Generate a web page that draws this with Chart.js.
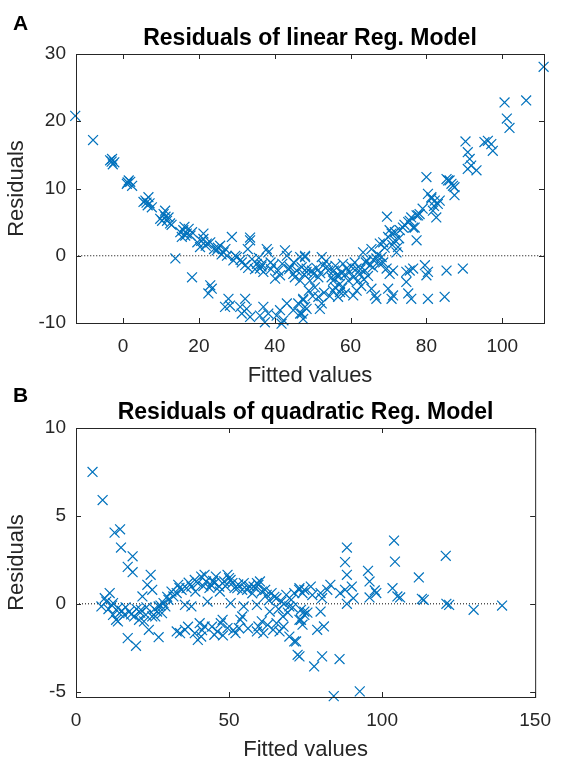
<!DOCTYPE html>
<html>
<head>
<meta charset="utf-8">
<script src="https://cdn.jsdelivr.net/npm/chart.js@4.4.1/dist/chart.umd.min.js"></script>
<style>
    html, body { margin: 0; padding: 0; background: #fff; }
    body { width: 563px; height: 760px; position: relative; overflow: hidden; font-family: 'Liberation Sans', Arial, sans-serif; }
    .panel { position: absolute; left: 0; width: 563px; height: 400px; }
    #panel-a { top: 0; }
    #panel-b { top: 374px; }
    .tag { position: absolute; left: 13px; font-weight: bold; font-size: 21px; line-height: 1; color: #000; }
</style>
</head>
<body>
<div class="panel" id="panel-a"><canvas id="chart-a"></canvas></div>
<div class="panel" id="panel-b"><canvas id="chart-b"></canvas></div>
<div class="tag" style="top:12px">A</div>
<div class="tag" style="top:384px">B</div>
<script>
// Panel A: residuals of the linear model
const fittedA = [
    -12.6, -7.9, -3.4, -2.7, -3.0, -2.3, 1.5, 2.4, 1.0, 1.9, 5.9, 6.7, 6.5, 7.6, 5.4,
    10.7, 11.6, 10.3, 12.4, 11.1, 9.8, 12.0, 15.9, 16.8, 15.1, 18.2, 15.5, 17.3, 16.2,
    21.2, 22.1, 20.3, 23.0, 21.2, 20.6, 25.6, 26.5, 27.4, 24.7, 28.7, 25.0,
    30.0, 31.3, 32.2, 29.1, 33.5, 32.9, 33.5, 35.3, 36.1, 37.0, 37.9, 38.3,
    34.0, 35.8, 38.9, 36.6, 34.8,
    39.6, 40.9, 41.4, 40.1, 42.7, 43.2, 44.0, 44.9, 45.8, 46.7, 45.3, 48.0, 48.4,
    46.7, 48.0, 47.1, 48.4, 50.2, 49.3, 51.5, 50.6, 52.4, 52.8,
    54.1, 55.0, 55.4, 56.3, 57.2, 55.9, 58.0, 58.9, 59.8, 60.7, 59.4,
    61.1, 61.6, 62.4, 62.0, 63.3, 64.2, 65.1, 63.8, 65.9,
    53.0, 54.5, 57.8, 58.5, 49.0, 50.0, 62.8, 63.5, 64.6, 56.0, 53.5, 57.5,
    65.5, 66.8, 67.7, 68.6, 69.5, 70.3, 71.2, 67.7, 68.6, 69.9, 70.8, 71.7, 72.5, 72.1,
    69.6, 70.3, 71.7, 73.0, 73.8, 75.2, 76.0, 77.4, 76.9, 77.4, 75.6, 77.8, 76.5,
    78.2, 80.4, 81.3, 82.2, 83.0, 81.7, 82.6, 83.5, 80.0, 81.3,
    86.1, 87.0, 87.4, 85.7, 86.6, 85.3, 87.4,
    90.3, 90.9, 91.4, 91.8, 90.9, 93.2, 96.2, 97.1, 97.5, 95.3,
    100.6, 106.3, 101.2, 101.9, 110.9,
    13.8, 18.2, 22.5, 23.4, 23.0, 26.9, 27.8, 28.2, 31.3, 32.6, 32.2, 33.5, 30.9,
    37.0, 37.4, 36.1, 38.3, 40.5, 41.4, 42.3, 43.2, 41.8, 44.9, 46.2, 46.7, 47.5, 48.4,
    47.5, 48.0, 47.1, 47.5, 51.5, 52.4, 51.9, 57.2, 56.7, 55.4,
    60.7, 61.6, 66.4, 65.5, 66.8, 69.9, 71.2, 70.8,
    74.7, 75.6, 76.5, 79.6, 80.4, 85.3, 89.6, 80.0, 74.7, 75.2, 76.0, 80.4, 84.8,
    -2.9, 1.2, 6.2, 7.0, 11.2, 12.8, 16.4, 17.8, 19.6, 21.8, 24.0, 26.0, 27.0, 29.6,
    31.0, 33.0, 36.5, 39.0, 42.0, 43.8, 45.0, 47.8, 49.8, 51.0, 52.0, 53.8, 55.6,
    57.0, 58.6, 60.2, 62.6, 64.0, 66.0, 67.2, 68.2, 69.0, 71.0, 72.8, 74.2, 79.0, 82.0
];
const residA = [
    20.8, 17.2, 14.2, 13.6, 14.0, 13.9, 11.2, 10.4, 10.7, 11.0, 8.2, 8.7, 7.5, 7.2, 8.0,
    6.2, 5.2, 5.2, 4.8, 6.7, 5.5, 5.7, 3.8, 3.3, 3.5, 3.5, 2.8, 4.0, 4.3,
    2.5, 1.8, 1.3, 2.0, 3.3, 2.2, 1.5, 0.5, 0.0, 0.8, 2.8, 1.2,
    -0.2, -1.0, -1.4, -0.7, 2.3, 1.0, 2.7, -1.2, -1.9, -2.4, 1.0, 0.5,
    -0.5, -0.3, -1.0, -1.3, -2.0,
    -1.4, -2.2, -2.9, -3.4, 0.8, 0.0, -1.7, -2.7, -2.2, -3.7, -3.2, -0.2, -1.9,
    -0.2, 0.0, -1.7, -2.4, -2.7, -3.7, -3.2, -4.7, -0.2, -1.4,
    -2.2, -3.2, -3.7, -2.9, -4.2, -4.7, -1.2, -1.9, -2.4, -3.2, -3.7,
    -1.0, -1.9, -2.7, -3.7, 0.5, -0.7, -1.4, -2.2, -1.7,
    -5.5, -6.0, -4.8, -5.6, -5.2, -6.0, -4.5, -3.5, -3.0, -1.5, -0.8, -2.5,
    1.0, -0.4, -1.2, -1.0, -1.9, -2.7, -2.2, 1.8, 2.0, 2.8, 3.3, 2.3, 1.3, 0.5,
    5.8, 3.8, 3.5, 3.8, 4.2, 5.0, 5.7, 6.0, 4.2, 2.3, 5.2, 6.0, 4.2,
    6.2, 9.2, 8.5, 8.2, 7.7, 6.7, 5.7, 8.2, 11.7, 8.7,
    11.2, 10.4, 9.0, 11.2, 10.7, 11.4, 10.2,
    17.0, 15.4, 14.4, 13.4, 12.9, 12.7, 17.1, 16.6, 15.6, 16.9,
    22.8, 23.1, 20.4, 19.0, 28.1,
    -0.4, -3.2, -5.6, -4.9, -4.4, -7.6, -6.4, -7.4, -8.6, -7.9, -6.4, -9.1, -7.6,
    -7.6, -9.9, -8.9, -8.6, -8.9, -8.1, -9.6, -7.1, -10.1, -8.1, -7.1, -8.6, -6.6, -7.9,
    -6.4, -7.6, -8.6, -9.4, -6.1, -7.1, -7.9, -5.4, -6.1, -5.2,
    -5.9, -5.2, -5.9, -4.9, -6.4, -4.9, -5.9, -6.4,
    -2.4, -2.2, -1.9, -1.4, -2.4, -2.2, -1.9, -2.9, -3.9, -5.6, -6.4, -6.4, -6.1,
    14.4, 10.9, 7.9, 7.8, 5.8, 4.6, 3.0, 3.0, 2.0, 1.5, 1.0, 0.2, 1.0, 0.0,
    -0.6, -1.8, -1.6, -2.0, -1.2, -2.0, -1.0, -2.8, -2.2, -1.8, -2.6, -1.6, -2.2,
    -3.0, -2.8, -1.6, -2.0, -1.0, -0.6, 0.2, -0.2, 1.2, 1.6, 2.6, 4.6, 7.0, 7.4
];
const zeroLineA = [-12.6, 110.9];
const xTicksA = [0, 20, 40, 60, 80, 100];
const yTicksA = [-10, 0, 10, 20, 30];

// Panel B: residuals of the quadratic model
const fittedB = [
    5.4, 8.7, 12.6, 14.4, 14.7, 18.5, 16.9, 18.5, 24.4, 23.3, 24.9, 21.7,
    8.3, 9.4, 11.0, 9.9, 12.1, 13.7, 14.2, 13.1, 15.8, 17.4, 19.0, 20.6, 22.2, 21.2, 22.8, 24.9, 26.5, 28.1,
    16.9, 19.6, 13.7, 12.1, 23.8, 27.0, 27.0, 28.6, 25.9,
    29.2, 30.2, 31.8, 32.9, 34.5, 36.1, 37.7, 39.8, 40.9, 42.5, 44.1, 45.2, 46.8, 48.4, 50.0, 51.1,
    52.7, 54.3, 55.9, 58.0, 59.6, 60.7, 62.3, 63.9, 65.5, 67.1, 68.7, 70.3, 71.3, 72.9, 74.0,
    33.4, 38.8, 42.0, 45.7, 49.5, 50.5, 54.8, 59.1, 60.1,
    35.6, 37.7, 43.0, 50.5, 54.8, 59.1, 63.3, 67.6, 69.7,
    32.9, 34.0, 35.6, 38.8, 39.8, 40.9, 40.4, 42.0, 45.2, 46.2, 47.3, 47.9, 49.5, 52.1, 53.2, 53.7, 54.3,
    59.1, 59.6, 60.7, 61.2, 64.4, 65.5, 66.5, 69.7, 71.3, 72.4, 73.5, 74.6,
    88.5, 87.9, 88.5, 103.9, 104.2, 120.8, 95.4, 95.9, 97.6, 95.9, 98.1, 112.0, 103.4, 105.0, 105.9,
    113.0, 113.6, 121.0, 121.9, 129.9, 139.2, 88.5, 86.3, 87.9, 90.1, 90.6,
    73.0, 74.6, 76.7, 79.9, 82.1, 83.1, 80.4, 73.5, 74.6, 73.0, 74.0, 79.9, 78.8, 81.0,
    71.9, 73.0, 80.4, 77.8, 86.1, 84.2, 92.7,
    10.6, 11.8, 15.0, 16.2, 18.0, 19.8, 21.0, 23.0, 25.6, 27.6, 29.8, 31.2, 33.8, 36.8,
    39.0, 41.6, 43.6, 44.8, 47.0, 48.8, 51.8, 53.0, 56.6, 57.6, 58.6, 61.8, 63.0, 64.8,
    66.2, 68.0, 69.2, 70.8, 36.6, 41.2, 44.4, 48.0, 51.4, 56.2, 62.6, 67.8, 75.6, 77.2
];
const residB = [
    7.5, 5.9, 4.05, 4.24, 3.2, 2.7, 2.1, 1.8, 1.65, 1.08, 0.8, 0.42,
    -0.15, 0.32, 0.61, 0.13, 0.04, -0.24, -0.53, -0.91, -0.63, -0.44, -0.72, -0.91, -1.0, -0.34, -0.63, -0.72, -0.44, -0.53,
    -1.95, -2.39, -1.0, -0.63, -1.48, -1.9, -0.15, 0.04, -0.72,
    -0.15, 0.23, 0.42, 0.61, 0.8, 0.89, 0.98, 1.18, 1.55, 1.27, 1.08, 1.18, 0.98, 1.27, 1.46, 1.18,
    0.89, 0.8, 0.8, 0.98, 1.08, 0.7, 0.51, 0.61, 0.32, 0.13, 0.51, 0.23, 0.61, 0.8, 0.61,
    1.08, 1.36, 1.65, 1.55, 1.65, 1.36, 1.18, 1.18, 1.27,
    -0.06, -0.15, 0.13, 0.04, -0.15, -0.06, -0.44, -0.72, -0.15,
    -1.57, -1.67, -1.48, -1.67, -2.05, -1.86, -1.1, -1.29, -1.76, -1.57, -1.1, -0.91, -1.38, -1.67, -1.38, -0.91, -0.72,
    -1.57, -1.29, -1.0, -1.67, -1.48, -1.1, -1.57, -1.86, -2.14, -2.9, -0.91, -0.44,
    3.2, 2.37, 1.65, 3.6, 2.4, 2.73, 1.88, 1.27, 0.76, 0.36, 0.61, 1.5, 0.89, 0.42, 0.36,
    0.28, 0.23, 0.0, -0.06, -0.34, -0.1, 0.0, 0.61, 0.8, 0.98, 0.32,
    0.89, 0.8, 0.98, 0.61, 0.8, 1.08, 0.32, -0.34, -0.63, -0.91, -1.19, -0.44, -1.48, -1.29,
    -2.14, -2.99, -2.99, -3.56, -3.14, -5.25, -4.98,
    -0.3, -0.1, -0.4, -0.2, -0.6, -0.3, -0.5, -0.2, -0.3, -0.1, 0.4, 0.7, 0.9, 1.2,
    0.7, 1.0, 0.9, 1.3, 0.7, 1.0, 0.9, 1.1, 1.0, 0.6, 0.9, 0.8, 0.2, 0.4,
    -0.3, 0.0, -0.5, -0.2, -1.3, -1.5, -1.3, -1.8, -1.5, -1.4, -1.2, -1.3, -0.5, 0.5
];
const zeroLineB = [0, 139.2];
const xTicksB = [0, 50, 100, 150];
const yTicksB = [-5, 0, 5, 10];

const FONT = "'Liberation Sans', Arial, sans-serif";
const AXIS_COLOR = '#262626';
const MARKER_COLOR = '#0072BD';

// MATLAB style box with inward ticks on all four sides
const axesBox = {
    id: 'axesBox',
    afterDraw(chart) {
        const { ctx, chartArea: a, scales: { x, y } } = chart;
        const tl = 5;
        ctx.save();
        ctx.strokeStyle = AXIS_COLOR;
        ctx.lineWidth = 1;
        ctx.strokeRect(a.left + 0.5, a.top + 0.5, a.right - a.left, a.bottom - a.top);
        ctx.beginPath();
        x.ticks.forEach(t => {
            const px = Math.round(x.getPixelForValue(t.value)) + 0.5;
            ctx.moveTo(px, a.bottom); ctx.lineTo(px, a.bottom - tl);
            ctx.moveTo(px, a.top); ctx.lineTo(px, a.top + tl);
        });
        y.ticks.forEach(t => {
            const py = Math.round(y.getPixelForValue(t.value)) + 0.5;
            ctx.moveTo(a.left, py); ctx.lineTo(a.left + tl, py);
            ctx.moveTo(a.right, py); ctx.lineTo(a.right - tl, py);
        });
        ctx.stroke();
        ctx.restore();
    }
};

function makeChart(canvasId, fitted, resid, zeroLine, xRange, yRange, xTicks, yTicks, title) {
    return new Chart(document.getElementById(canvasId), {
        data: {
            datasets: [{
                type: 'scatter',
                data: fitted.map((v, i) => ({ x: v, y: resid[i] })),
                pointStyle: 'crossRot',
                pointRadius: 7,
                pointBorderWidth: 1.2,
                borderColor: MARKER_COLOR,
                backgroundColor: MARKER_COLOR,
                clip: false
            }, {
                type: 'line',
                data: zeroLine.map(v => ({ x: v, y: 0 })),
                borderColor: '#000',
                borderWidth: 1,
                borderDash: [1, 2],
                pointRadius: 0,
                fill: false
            }]
        },
        options: {
            responsive: true,
            maintainAspectRatio: false,
            animation: false,
            layout: { padding: { left: 0, right: 19, top: 0, bottom: 0 } },
            plugins: {
                legend: { display: false },
                tooltip: { enabled: false },
                title: {
                    display: true,
                    text: title,
                    fullSize: false,
                    color: '#000',
                    font: { family: FONT, size: 23, weight: 'bold' },
                    padding: { top: 24.5, bottom: 1.9 }
                }
            },
            scales: {
                x: {
                    type: 'linear',
                    min: xRange[0],
                    max: xRange[1],
                    grid: { display: false, drawTicks: false },
                    border: { display: false },
                    ticks: { color: AXIS_COLOR, font: { family: FONT, size: 19 }, padding: 12, autoSkip: false, maxRotation: 0 },
                    afterBuildTicks: s => { s.ticks = xTicks.map(v => ({ value: v })); },
                    afterFit: s => { s.height = 77; },
                    title: { display: true, text: 'Fitted values', color: AXIS_COLOR, font: { family: FONT, size: 22 }, padding: { top: 0, bottom: 10.8 } }
                },
                y: {
                    type: 'linear',
                    min: yRange[0],
                    max: yRange[1],
                    grid: { display: false, drawTicks: false },
                    border: { display: false },
                    ticks: { color: AXIS_COLOR, font: { family: FONT, size: 19 }, padding: 10, autoSkip: false },
                    afterBuildTicks: s => { s.ticks = yTicks.map(v => ({ value: v })); },
                    afterFit: s => { s.width = 76; },
                    title: { display: true, text: 'Residuals', color: AXIS_COLOR, font: { family: FONT, size: 22 }, padding: { top: 3.8, bottom: 0 } }
                }
            }
        },
        plugins: [axesBox]
    });
}

makeChart('chart-a', fittedA, residA, zeroLineA, [-12.4, 111], [-10, 30], xTicksA, yTicksA, 'Residuals of linear Reg. Model');
makeChart('chart-b', fittedB, residB, zeroLineB, [0, 150], [-5.3, 10], xTicksB, yTicksB, 'Residuals of quadratic Reg. Model');
</script>
</body>
</html>
